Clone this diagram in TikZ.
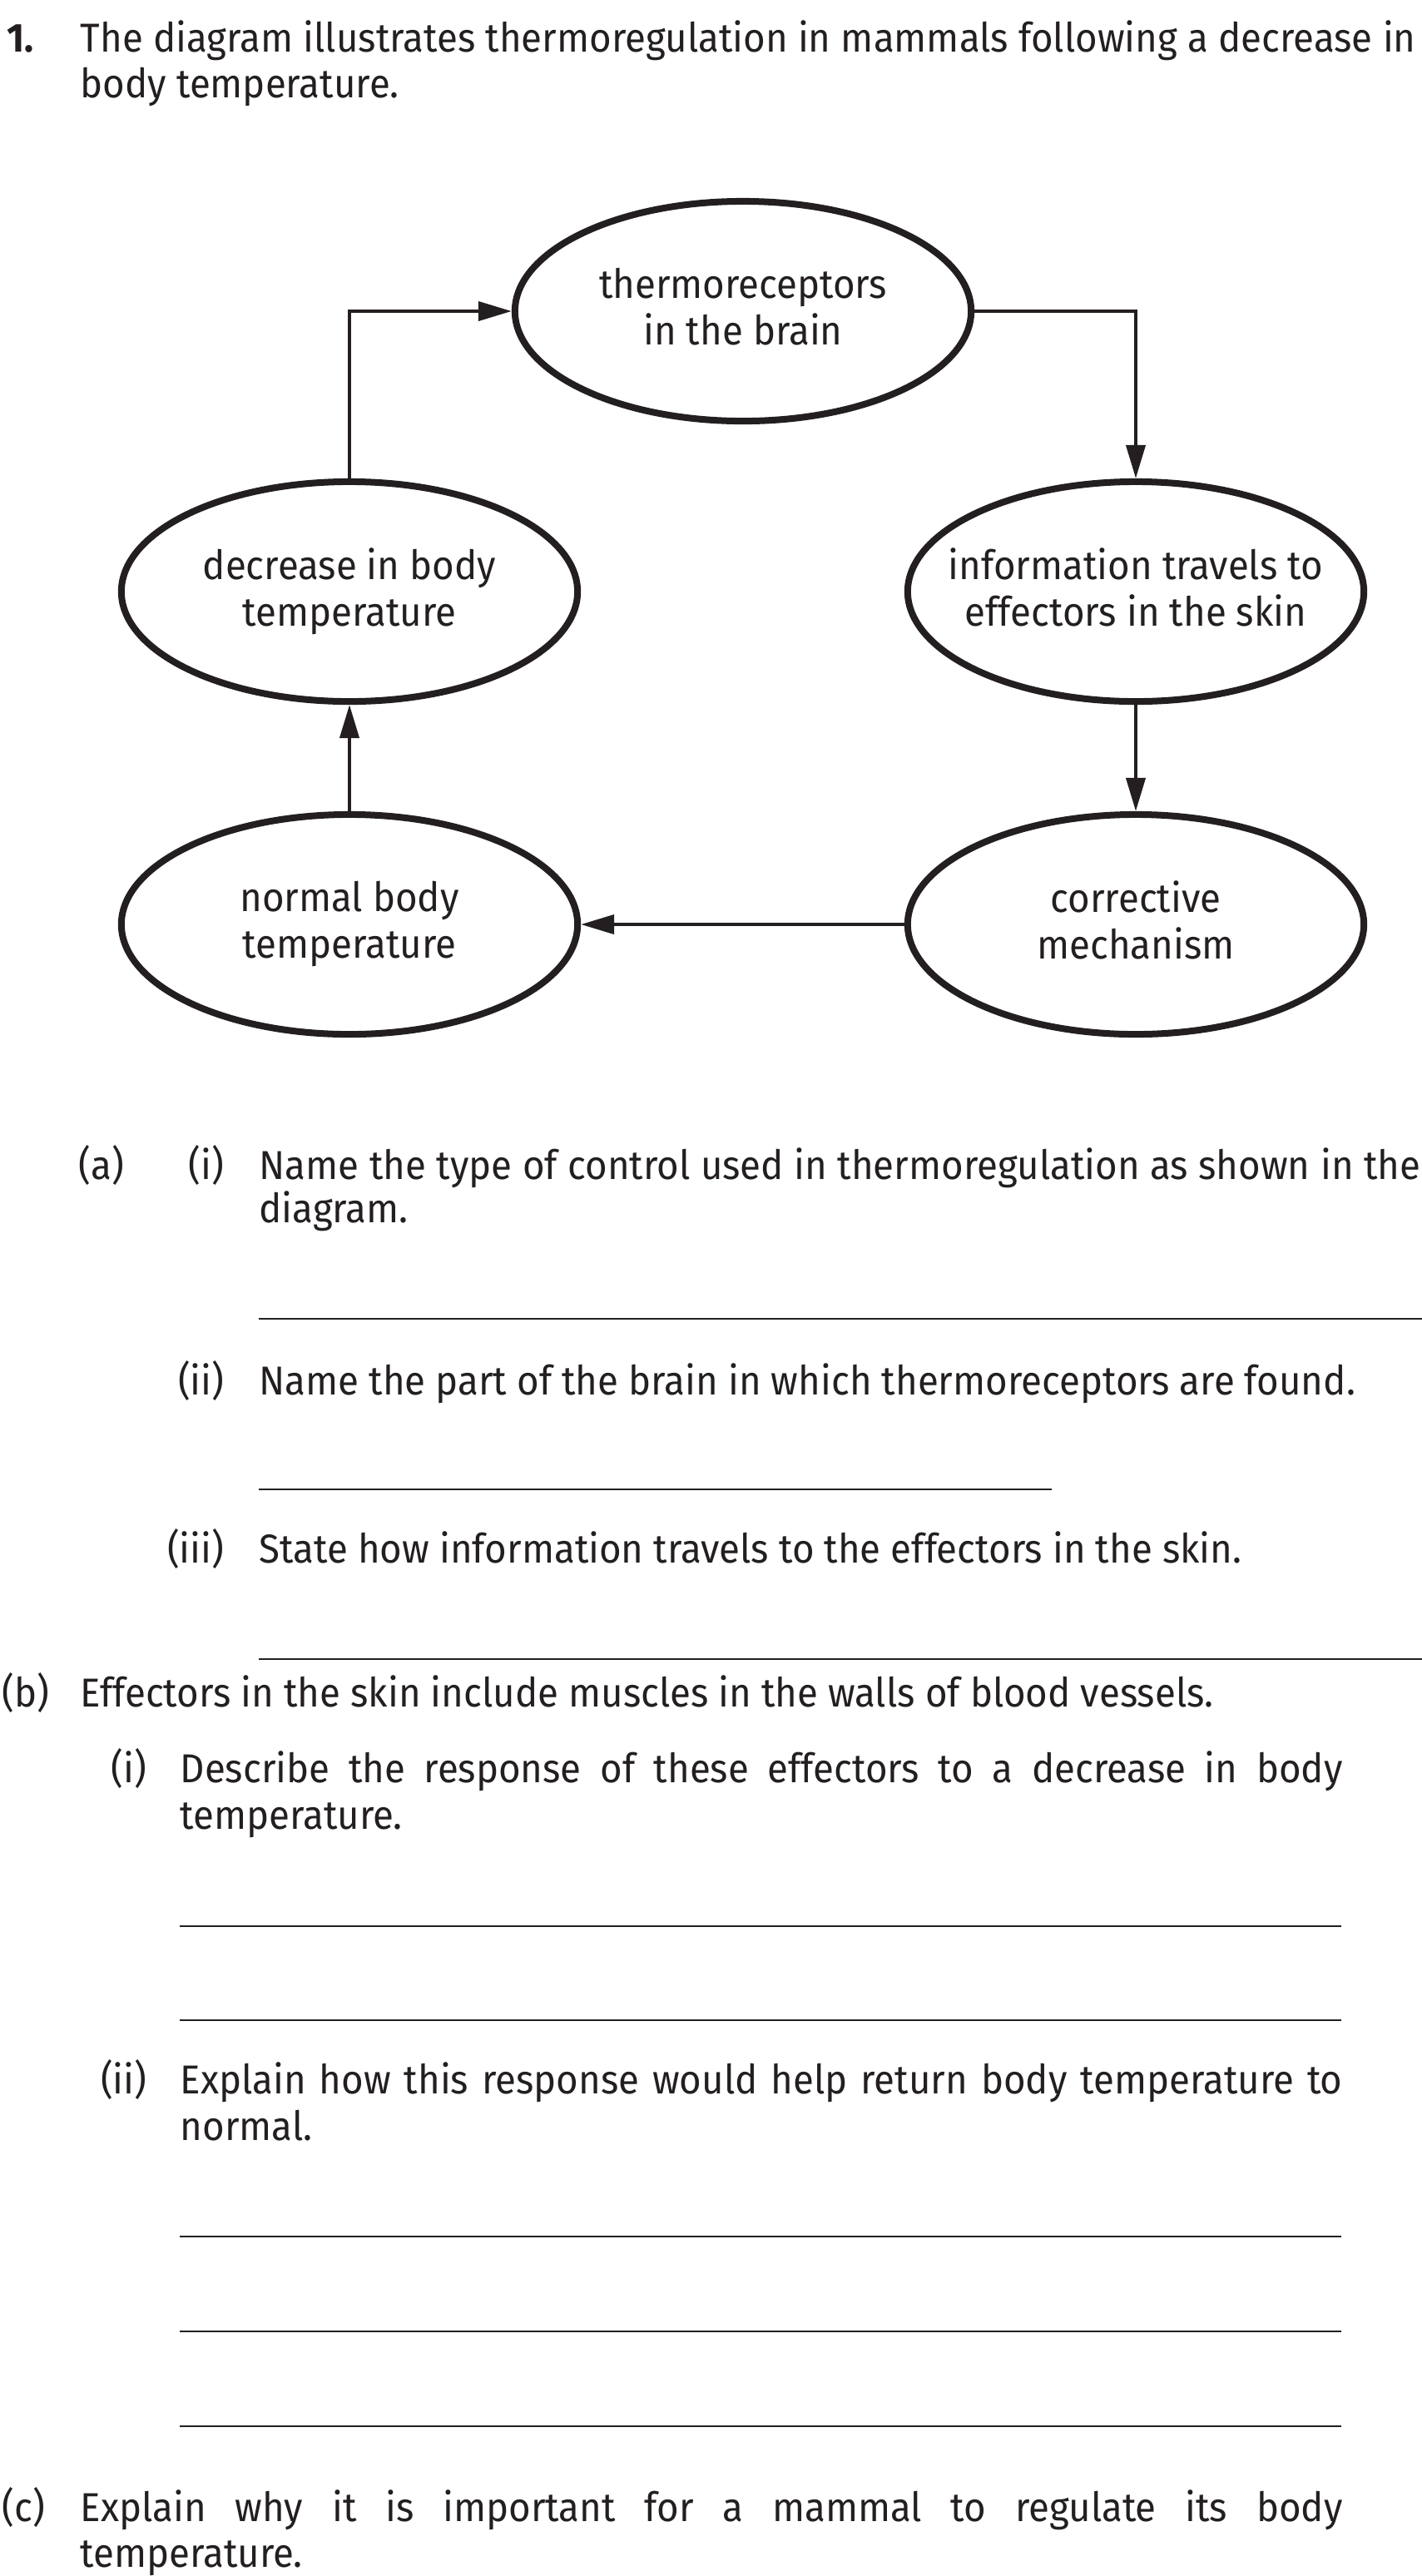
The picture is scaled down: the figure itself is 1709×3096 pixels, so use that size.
\documentclass[tikz,border=0pt]{standalone}
\usepackage{fontspec}
\setmainfont{Fira Sans}[FakeStretch=0.94]
\usepackage{xcolor}
\usetikzlibrary{shapes.geometric, arrows.meta}
\definecolor{ink}{HTML}{231F20}
\newcommand{\qfont}{\fontsize{13.8pt}{15.9pt}\selectfont}
\tikzstyle{bubble} = [ellipse, draw=ink, line width=0.08cm, minimum width=5.48cm, minimum height=2.64cm, inner sep=0pt]
\tikzstyle{bubbletext} = [align=center, inner sep=0pt, text depth=0.11cm]
\tikzstyle{arrow} = [draw=ink, line width=0.04cm, -{Triangle[length=0.4cm, width=0.23cm]}]
\tikzstyle{txt} = [anchor=base west, inner sep=0pt]
\tikzstyle{num} = [anchor=base east, inner sep=0pt]
\tikzstyle{answer} = [draw=ink, line width=0.027cm]
\begin{document}
\begin{tikzpicture}[x=0.01cm, y=0.01cm, yscale=-1, every node/.style={text=ink, font=\qfont}]
\useasboundingbox (0,0) rectangle (1709,3096);

% question stem
\node[txt] (qnum) at (8,62) {\bfseries 1.};
\node[txt] (stem1) at (96,62) {\makebox[16.04cm][s]{The diagram illustrates thermoregulation in mammals following a decrease in}};
\node[txt] (stem2) at (96,117) {body temperature.};

% the loop
\node at (893,374) (brain) [bubble] {};
\node at (420,711) (decrease) [bubble] {};
\node at (1365,711) (info) [bubble] {};
\node at (420,1111) (normal) [bubble] {};
\node at (1365,1111) (corrective) [bubble] {};

\node at (brain) (brainlbl) [bubbletext] {thermoreceptors\\in the brain};
\node at (decrease) (decreaselbl) [bubbletext] {decrease in body\\temperature};
\node at (info) (infolbl) [bubbletext] {information travels to\\effectors in the skin};
\node at (normal) (normallbl) [bubbletext] {normal body\\temperature};
\node at (corrective) (correctivelbl) [bubbletext] {corrective\\mechanism};

\draw [arrow] (decrease.north) |- (brain.west);
\draw [arrow] (brain.east) -| (info.north);
\draw [arrow] (info.south) -- (corrective.north);
\draw [arrow] (corrective.west) -- (normal.east);
\draw [arrow] (normal.north) -- (decrease.south);

% part (a)
\node[txt] (alabel) at (94,1417) {(a)};
\node[num] (ailabel) at (270,1417) {(i)};
\node[txt] (ai1) at (311,1417) {\makebox[13.95cm][s]{Name the type of control used in thermoregulation as shown in the}};
\node[txt] (ai2) at (311,1469) {diagram.};
\draw[answer] (311,1585) -- (1709,1585);

\node[num] (aiilabel) at (270,1676) {(ii)};
\node[txt] (aii) at (311,1676) {Name the part of the brain in which thermoreceptors are found.};
\draw[answer] (311,1790) -- (1264,1790);

\node[num] (aiiilabel) at (270,1878) {(iii)};
\node[txt] (aiii) at (311,1878) {State how information travels to the effectors in the skin.};
\draw[answer] (311,1994) -- (1709,1994);

% part (b)
\node[txt] (blabel) at (2,2051) {(b)};
\node[txt] (b0) at (96,2051) {Effectors in the skin include muscles in the walls of blood vessels.};

\node[num] (bilabel) at (177,2142) {(i)};
\node[txt] (bi1) at (216,2142) {\makebox[13.96cm][s]{Describe the response of these effectors to a decrease in body}};
\node[txt] (bi2) at (216,2198) {temperature.};

\node[num] (biilabel) at (177,2516) {(ii)};
\node[txt] (bii1) at (216,2516) {\makebox[13.96cm][s]{Explain how this response would help return body temperature to}};
\node[txt] (bii2) at (216,2572) {normal.};

\foreach \y in {2315,2428,2688,2802,2916}
  \draw[answer] (216,\y) -- (1612,\y);

% part (c)
\node[txt] (clabel) at (2,3030) {(c)};
\node[txt] (c1) at (96,3030) {\makebox[15.16cm][s]{Explain why it is important for a mammal to regulate its body}};
\node[txt] (c2) at (96,3085) {temperature.};

\end{tikzpicture}
\end{document}
